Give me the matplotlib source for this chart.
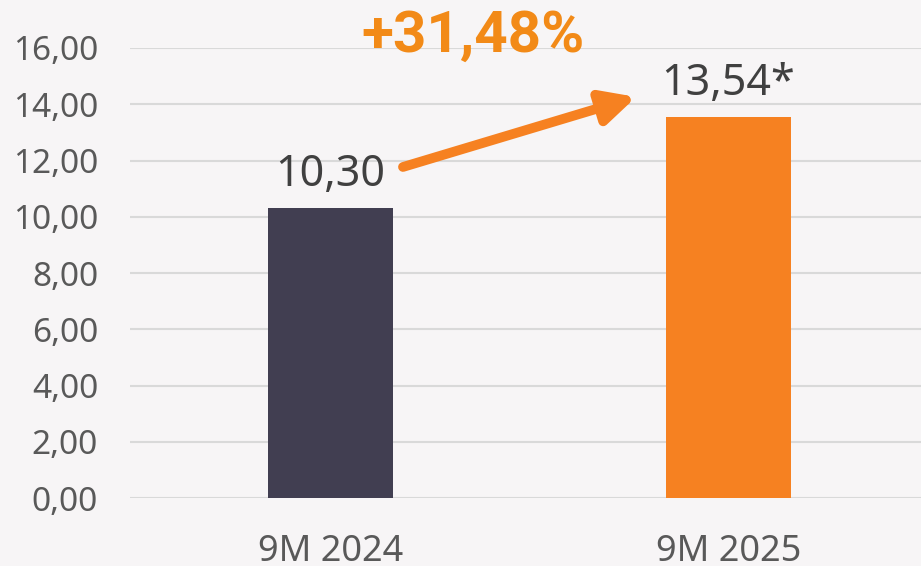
import numpy as np
import matplotlib.pyplot as plt

plt.rcParams['font.family'] = ['Noto Sans', 'DejaVu Sans']

categories = ['9M 2024', '9M 2025']
values = [10.30, 13.54]
value_labels = ['10,30', '13,54*']
change_label = '+31,48%'
yticks = np.arange(0, 17, 2)
ytick_labels = ['{:.2f}'.format(v).replace('.', ',') for v in yticks]

bg = '#F7F5F6'
bar_colors = ['#413E51', '#F68121']
text_gray = '#595959'
orange_txt = '#F28A17'

fig = plt.figure(figsize=(9.21, 5.66), dpi=100, facecolor=bg)
ax = fig.add_axes([0.1412, 0.1201, 0.8588, 0.7951], facecolor=bg)

x = np.arange(len(categories))
ax.bar(x, values, width=0.314, color=bar_colors, zorder=3)

ax.set_ylim(0, 16)
ax.set_xlim(-0.5038, 1.4837)
ax.set_yticks(yticks)
ax.set_yticklabels(ytick_labels)
ax.set_xticks(x)
ax.set_xticklabels(categories)
ax.tick_params(axis='y', length=0, pad=23, labelsize=24, labelcolor=text_gray)
ax.tick_params(axis='x', length=0, pad=26, labelsize=26, labelcolor=text_gray)
ax.grid(axis='y', color='#D9D9D9', linewidth=1.5, zorder=0)
for s in ax.spines.values():
    s.set_visible(False)

# value labels above the bars
for xi, v, lab in zip(x, values, value_labels):
    ax.annotate(lab, (xi, v), xytext=(0, 16), textcoords='offset points',
                ha='center', va='baseline', fontsize=31, color='#404040')

# growth arrow and percentage
ax.annotate('', xy=(0.768, 14.26), xytext=(0.182, 11.77),
            arrowprops=dict(arrowstyle='-|>,head_length=2.0,head_width=1.0',
                            color='#F68121', lw=7, shrinkA=0, shrinkB=0),
            annotation_clip=False, zorder=4)
ax.text(0.358, 15.86, change_label, ha='center', va='baseline', fontsize=42,
        fontweight='bold', family=['Roboto', 'DejaVu Sans'], color=orange_txt,
        clip_on=False, zorder=5)

fig.savefig('out.png', dpi=100, facecolor=bg)
